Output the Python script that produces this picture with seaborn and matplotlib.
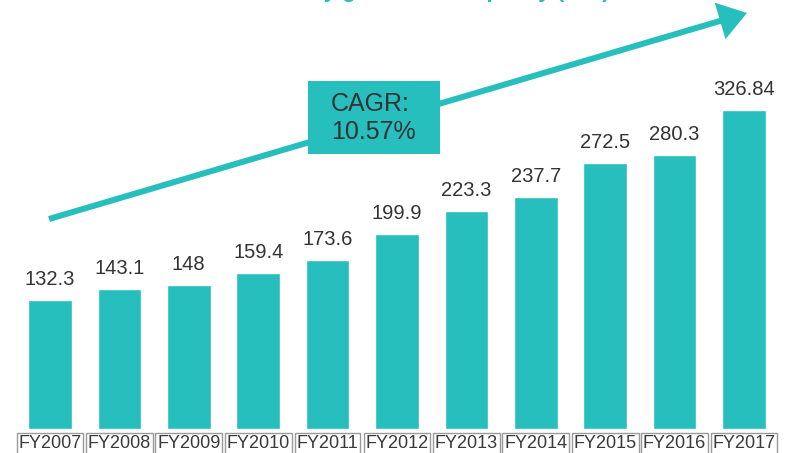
import matplotlib
matplotlib.use("Agg")
import matplotlib.pyplot as plt
from matplotlib.patches import FancyArrow, Rectangle
from matplotlib.transforms import Affine2D
import seaborn as sns
import pandas as pd

# Installed capacity by fiscal year
years = ["FY2007", "FY2008", "FY2009", "FY2010", "FY2011", "FY2012",
         "FY2013", "FY2014", "FY2015", "FY2016", "FY2017"]
capacity = [132.3, 143.1, 148, 159.4, 173.6, 199.9, 223.3, 237.7, 272.5, 280.3, 326.84]
value_labels = ["132.3", "143.1", "148", "159.4", "173.6", "199.9",
                "223.3", "237.7", "272.5", "280.3", "326.84"]
cagr_text = "CAGR:\n10.57%"
title_text = "Electricity generation capacity (GW)"

TEAL = "#27BEBE"
DARK = "#333333"

sns.set_theme(style="white")
plt.rcParams["font.family"] = ["Liberation Sans", "DejaVu Sans"]

W, H = 792, 453
fig = plt.figure(figsize=(W / 100, H / 100), dpi=100)
ax = fig.add_axes([15.3 / W, (H - 429) / H, (778.7 - 15.3) / W, 429 / H])

df = pd.DataFrame({"year": years, "capacity": capacity})
sns.barplot(data=df, x="year", y="capacity", color=TEAL, saturation=1,
            width=0.63, ax=ax)

ax.set_xlim(-0.5, len(years) - 0.5)
ax.set_ylim(0, 439.5)
ax.set_xlabel("")
ax.set_ylabel("")
ax.set_yticks([])
sns.despine(ax=ax, left=True, bottom=True)
ax.tick_params(axis="x", length=0, pad=4.5, labelsize=13, labelcolor="#3a3a3a")
for lbl in ax.get_xticklabels():
    lbl.set_bbox(dict(boxstyle="square,pad=0.1", facecolor="none",
                      edgecolor="#9a9a9a", linewidth=1.0))

# value labels above each bar
for i, (v, t) in enumerate(zip(capacity, value_labels)):
    ax.annotate(t, xy=(i, v), xytext=(0, 10.8), textcoords="offset points",
                ha="center", va="baseline", fontsize=14.5, color=DARK)

# pixel transform (origin at top-left)
pix = Affine2D().scale(1, -1).translate(0, H)

x0, y0, x1, y1 = 49, 219, 747, 13
arrow = FancyArrow(x0, y0, x1 - x0, y1 - y0, width=6, head_width=38,
                   head_length=28, length_includes_head=True,
                   color=TEAL, linewidth=0, transform=pix, figure=fig)
fig.patches.append(arrow)

box = Rectangle((308, 81), 132, 73, facecolor=TEAL, edgecolor="none",
                transform=pix, figure=fig)
fig.patches.append(box)
fig.text(331 / W, 1 - 118 / H, cagr_text, ha="left", va="center",
         fontsize=18, color=DARK, linespacing=1.2)

# title sits just above the top edge
fig.text(610 / W, 1 + 3 / H, title_text, ha="right", va="baseline",
         fontsize=16, fontweight="bold", color=TEAL)

fig.savefig("out.png", dpi=100)
